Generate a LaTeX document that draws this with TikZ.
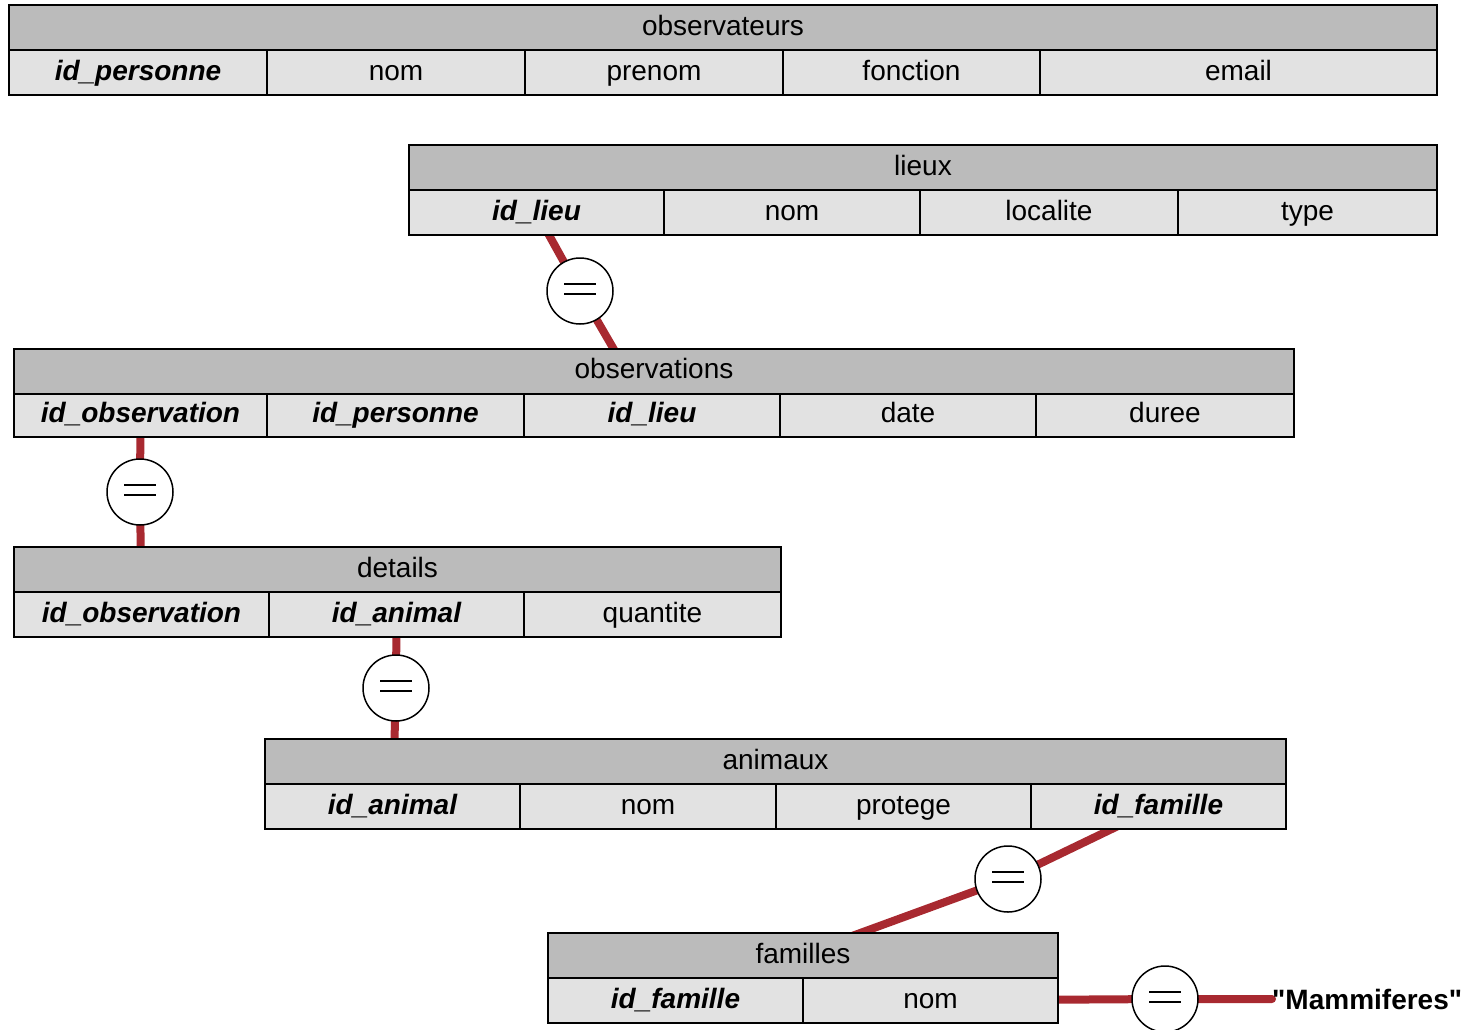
\documentclass[tikz,border=0pt]{standalone}
\usepackage{fontspec}
\setmainfont{Liberation Sans}
\newfontfamily\quotefont{Liberation Sans}
\usetikzlibrary{positioning,backgrounds}

\definecolor{headgray}{RGB}{187,187,187}
\definecolor{cellgray}{RGB}{226,226,226}
\definecolor{joinred}{RGB}{168,41,48}
\def\tabfont{\fontsize{28}{33}\selectfont}

\begin{document}
\begin{tikzpicture}[x=1pt,y=-1pt]
\tikzset{tablehead/.style = {draw, fill=headgray, line width=2pt, minimum height=45pt, inner sep=0pt, outer sep=0pt, text height=20pt, text depth=5pt, font=\tabfont},
         field/.style = {tablehead, fill=cellgray},
         keyfield/.style = {field, font=\tabfont\bfseries\itshape},
         lowrow/.style = {minimum height=43pt},
         eqsign/.style = {circle, draw, fill=white, line width=1.5pt, minimum size=66pt, inner sep=0pt,
           path picture={\draw[line width=1.5pt] ([shift={(-16,-7)}]path picture bounding box.center) -- ++(32,0)
                                                 ([shift={(-16,3)}]path picture bounding box.center) -- ++(32,0);}},
         joinline/.style = {draw=joinred, line width=8pt}}
\useasboundingbox (0,0) rectangle (1465,1029);

% observateurs
\node[tablehead, minimum width=1428pt] (obsr-head) at (723,27.5) {observateurs};
\node[keyfield, minimum width=258pt, anchor=north west] (obsr-id) at (obsr-head.south west) {id\_personne};
\node[field, minimum width=258pt, right=0pt of obsr-id] (obsr-nom) {nom};
\node[field, minimum width=258pt, right=0pt of obsr-nom] (obsr-prenom) {prenom};
\node[field, minimum width=257pt, right=0pt of obsr-prenom] (obsr-fonction) {fonction};
\node[field, minimum width=397pt, right=0pt of obsr-fonction] (obsr-email) {email};

% lieux
\node[tablehead, minimum width=1028pt] (lieux-head) at (923,167.5) {lieux};
\node[keyfield, minimum width=255pt, anchor=north west] (lieux-id) at (lieux-head.south west) {id\_lieu};
\node[field, minimum width=256pt, right=0pt of lieux-id] (lieux-nom) {nom};
\node[field, minimum width=258pt, right=0pt of lieux-nom] (lieux-localite) {localite};
\node[field, minimum width=259pt, right=0pt of lieux-localite] (lieux-type) {type};

% observations
\node[tablehead, minimum width=1280pt] (obsv-head) at (654,371) {observations};
\node[keyfield, lowrow, minimum width=253pt, anchor=north west] (obsv-id) at (obsv-head.south west) {id\_observation};
\node[keyfield, lowrow, minimum width=257pt, right=0pt of obsv-id] (obsv-personne) {id\_personne};
\node[keyfield, lowrow, minimum width=256pt, right=0pt of obsv-personne] (obsv-lieu) {id\_lieu};
\node[field, lowrow, minimum width=256pt, right=0pt of obsv-lieu] (obsv-date) {date};
\node[field, lowrow, minimum width=258pt, right=0pt of obsv-date] (obsv-duree) {duree};

% details
\node[tablehead, minimum width=767pt] (det-head) at (397.5,569.5) {details};
\node[keyfield, minimum width=255pt, anchor=north west] (det-id) at (det-head.south west) {id\_observation};
\node[keyfield, minimum width=255pt, right=0pt of det-id] (det-animal) {id\_animal};
\node[field, minimum width=257pt, right=0pt of det-animal] (det-quantite) {quantite};

% animaux
\node[tablehead, minimum width=1021pt] (anim-head) at (775.5,761.5) {animaux};
\node[keyfield, minimum width=255pt, anchor=north west] (anim-id) at (anim-head.south west) {id\_animal};
\node[field, minimum width=256pt, right=0pt of anim-id] (anim-nom) {nom};
\node[field, minimum width=255pt, right=0pt of anim-nom] (anim-protege) {protege};
\node[keyfield, minimum width=255pt, right=0pt of anim-protege] (anim-famille) {id\_famille};

% familles
\node[tablehead, minimum width=510pt] (fam-head) at (803,955.5) {familles};
\node[keyfield, minimum width=255pt, anchor=north west] (fam-id) at (fam-head.south west) {id\_famille};
\node[field, minimum width=255pt, right=0pt of fam-id] (fam-nom) {nom};

\node[anchor=west, inner sep=0pt, font=\tabfont\quotefont\bfseries] (mammif) at (1272,999) {"Mammiferes"};

% jointures
\node[eqsign] (eq-lieu) at (580,291) {};
\node[eqsign] (eq-obs) at (140,492) {};
\node[eqsign] (eq-animal) at (396,688) {};
\node[eqsign] (eq-famille) at (1008,879) {};
\node[eqsign] (eq-mammif) at (1165,999) {};

\begin{scope}[on background layer]
\draw[joinline] (lieux-id.center) -- (eq-lieu.center) -- (obsv-lieu.center);
\draw[joinline] (obsv-id.center) -- (eq-obs.center) -- (det-id.center);
\draw[joinline] (det-animal.center) -- (eq-animal.center) -- (anim-id.center);
\draw[joinline] (anim-famille.center) -- (eq-famille.center) -- (fam-id.center);
\draw[joinline, line cap=round] (fam-nom.center) -- (eq-mammif.center) -- (mammif.west);
\end{scope}
\end{tikzpicture}
\end{document}
